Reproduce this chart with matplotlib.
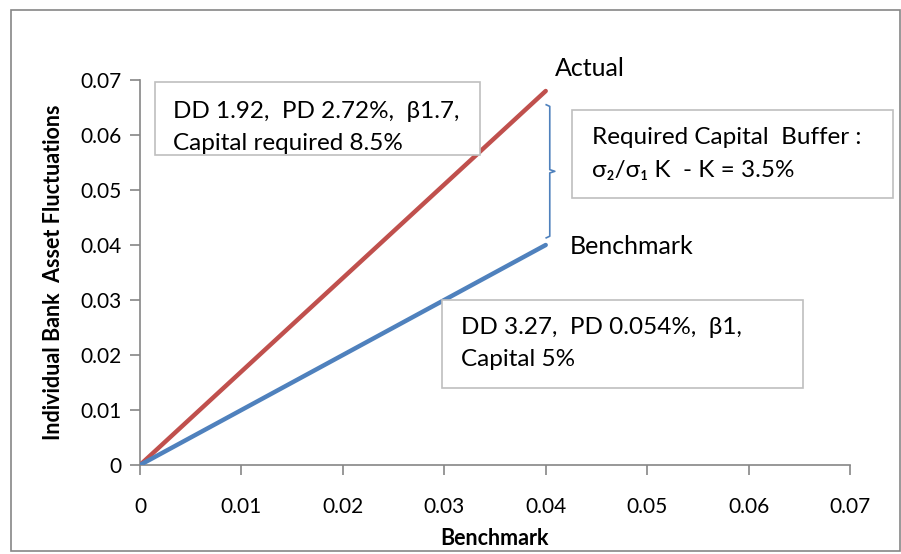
import matplotlib.pyplot as plt
from matplotlib.patches import Rectangle

plt.rcParams['font.family'] = ['Lato', 'DejaVu Sans']

# data
x_vals = [0, 0.04]
actual = [0, 0.068]
benchmark = [0, 0.04]
ticks = [0, 0.01, 0.02, 0.03, 0.04, 0.05, 0.06, 0.07]
tick_labels = ['0', '0.01', '0.02', '0.03', '0.04', '0.05', '0.06', '0.07']

RED = '#C0504D'
BLUE = '#4F81BD'
GRAY = '#868686'

fig = plt.figure(figsize=(9.01, 5.54), dpi=100)
W, H = 901, 554
ax = fig.add_axes([140 / W, 1 - 465 / H, 710 / W, 385 / H])

ax.plot(x_vals, actual, color=RED, lw=3.2, solid_capstyle='round', zorder=3)
ax.plot(x_vals, benchmark, color=BLUE, lw=3.2, solid_capstyle='round', zorder=3)

ax.set_xlim(0, 0.07)
ax.set_ylim(0, 0.07)
ax.set_xticks(ticks, labels=tick_labels)
ax.set_yticks(ticks, labels=tick_labels)
for s in ['top', 'right']:
    ax.spines[s].set_visible(False)
for s in ['left', 'bottom']:
    ax.spines[s].set_color(GRAY)
    ax.spines[s].set_linewidth(1.2)
ax.tick_params(axis='both', colors=GRAY, labelcolor='black', labelsize=15,
               length=7, width=1.2, direction='out')
ax.tick_params(axis='x', pad=16)
ax.tick_params(axis='y', pad=6)

ax.set_xlabel('Benchmark', fontsize=15.5, fontweight='bold', labelpad=8)
ax.set_ylabel('Individual Bank  Asset Fluctuations', fontsize=15.5,
              fontweight='bold', labelpad=12)

# text boxes (pixel coords converted to figure fractions)
def box(x0, y0, x1, y1):
    fig.patches.append(Rectangle((x0 / W, 1 - y1 / H), (x1 - x0) / W, (y1 - y0) / H,
                                 transform=fig.transFigure, facecolor='white',
                                 edgecolor='#BFBFBF', lw=1.2, zorder=5))

def txt(x, y, s, size=18, **kw):
    fig.text(x / W, 1 - y / H, s, fontsize=size, va='center', ha='left', zorder=6, **kw)

box(155, 82, 480, 155)
txt(173, 112, 'DD 1.92,  PD 2.72%,  β1.7,', size=17.5)
txt(173, 143, 'Capital required 8.5%', size=17.5)

box(572, 110, 893, 198)
txt(592, 138, 'Required Capital  Buffer :', size=17.5)
txt(592, 171, 'σ₂/σ₁ K  - K = 3.5%', size=17.5)

box(442, 300, 803, 388)
txt(461, 327, 'DD 3.27,  PD 0.054%,  β1,', size=17.5)
txt(461, 360, 'Capital 5%', size=17.5)

txt(555, 69, 'Actual')
txt(570, 247, 'Benchmark')

# curly bracket between the two end points
bx = x_vals[-1]
top = actual[-1] - 0.0025
bot = benchmark[-1] + 0.0013
mid = (top + bot) / 2
ax.plot([bx + 0.00005, bx + 0.0004, bx + 0.0004, bx + 0.0009, bx + 0.0004, bx + 0.0004, bx + 0.00005],
        [top, top - 0.0003, mid + 0.0003, mid, mid - 0.0003, bot + 0.0003, bot],
        color=BLUE, lw=1.2, clip_on=False, zorder=4)

# outer chart border
fig.patches.append(Rectangle((11 / W, 1 - 551 / H), 889 / W, 541 / H,
                             transform=fig.transFigure, facecolor='none',
                             edgecolor=GRAY, lw=1.2))

fig.savefig('out.png', dpi=100)
